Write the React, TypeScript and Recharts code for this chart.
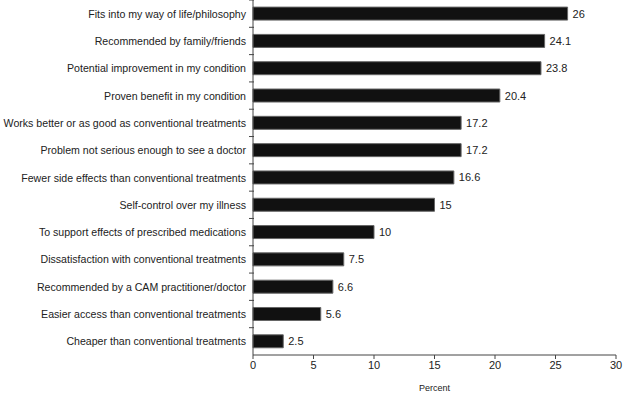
import { BarChart, Bar, XAxis, YAxis, LabelList } from "recharts";

// reasons for using CAM, percent of respondents
const reasons = [
  "Fits into my way of life/philosophy",
  "Recommended by family/friends",
  "Potential improvement in my condition",
  "Proven benefit in my condition",
  "Works better or as good as conventional treatments",
  "Problem not serious enough to see a doctor",
  "Fewer side effects than conventional treatments",
  "Self-control over my illness",
  "To support effects of prescribed medications",
  "Dissatisfaction with conventional treatments",
  "Recommended by a CAM practitioner/doctor",
  "Easier access than conventional treatments",
  "Cheaper than conventional treatments",
];
const percents = [26, 24.1, 23.8, 20.4, 17.2, 17.2, 16.6, 15, 10, 7.5, 6.6, 5.6, 2.5];
const xTicks = [0, 5, 10, 15, 20, 25, 30];

const data = reasons.map((reason, i) => ({ reason, value: percents[i] }));

const FONT = "'Liberation Sans', Arial, sans-serif";
const AXIS = "#444";
const TEXT = "#222";
const PLOT_H = 355;

// category labels plus small tick marks at the band boundaries
const ReasonTick = (props: any) => {
  const { x, y, payload } = props;
  const half = PLOT_H / reasons.length / 2;
  return (
    <g>
      <line x1={x + 4} x2={x + 9} y1={y - half} y2={y - half} stroke={AXIS} strokeWidth={1} />
      <text x={x + 1} y={y} dy={4} textAnchor="end" fontSize={10.6} fill={TEXT} fontFamily={FONT}>
        {payload.value}
      </text>
    </g>
  );
};

const ValueLabel = (props: any) => {
  const { x, y, width, height, value } = props;
  return (
    <text
      x={Number(x) + Number(width) + 5}
      y={Number(y) + Number(height) / 2}
      dy={4}
      fontSize={11}
      fill={TEXT}
      fontFamily={FONT}
    >
      {value}
    </text>
  );
};

const App = () => {
  return (
    <div style={{ position: "absolute", left: 0, top: 0 }}>
      <BarChart
        width={623}
        height={394}
        data={data}
        layout="vertical"
        margin={{ top: 0, right: 7, bottom: 0, left: 0 }}
        barCategoryGap="26%"
      >
        <XAxis
          type="number"
          domain={[0, 30]}
          ticks={xTicks}
          interval={0}
          height={39}
          stroke={AXIS}
          tickSize={4}
          tick={{ fontSize: 11, fill: TEXT, fontFamily: FONT }}
          label={{
            value: "Percent",
            position: "insideBottom",
            offset: 3,
            fontSize: 9,
            fill: TEXT,
            fontFamily: FONT,
          }}
        />
        <YAxis
          type="category"
          dataKey="reason"
          width={253}
          interval={0}
          stroke={AXIS}
          tickLine={false}
          tick={<ReasonTick />}
        />
        <Bar dataKey="value" fill="#111" stroke="#666" strokeWidth={1} isAnimationActive={false}>
          <LabelList dataKey="value" content={<ValueLabel />} />
        </Bar>
      </BarChart>
    </div>
  );
};

export default App;
